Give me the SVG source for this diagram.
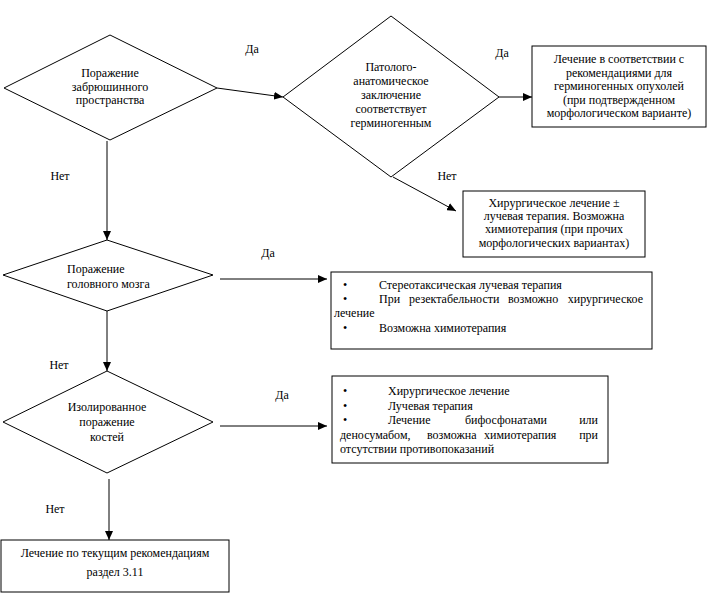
<svg xmlns="http://www.w3.org/2000/svg" width="711" height="597" viewBox="0 0 711 597">
<style>
.s{fill:#fff;stroke:#000;stroke-width:1}
text{font-family:"Liberation Serif","Times New Roman",serif;font-size:12px;fill:#000}
.c{text-anchor:middle}
.e{text-anchor:end}
.l{stroke:#000;stroke-width:1;fill:none}
</style>
<defs>
<marker id="a" markerWidth="10" markerHeight="8" refX="9" refY="4" orient="auto" markerUnits="userSpaceOnUse">
<path d="M0,0 L9,4 L0,8 Z" fill="#000"/>
</marker>
</defs>
<rect width="711" height="597" fill="#fff"/>
<g id="connectors">
<line class="l" x1="217" y1="88" x2="283" y2="97" marker-end="url(#a)"/>
<line class="l" x1="499" y1="97" x2="532" y2="97" marker-end="url(#a)"/>
<line class="l" x1="393" y1="177" x2="456" y2="211" marker-end="url(#a)"/>
<line class="l" x1="107" y1="141" x2="107" y2="240" marker-end="url(#a)"/>
<line class="l" x1="220" y1="279" x2="327" y2="279" marker-end="url(#a)"/>
<line class="l" x1="107" y1="311" x2="107" y2="371" marker-end="url(#a)"/>
<line class="l" x1="220" y1="426" x2="327" y2="426" marker-end="url(#a)"/>
<line class="l" x1="109" y1="479" x2="109" y2="540" marker-end="url(#a)"/>
<text x="252" y="53" class="c">Да</text>
<text x="502" y="57" class="c">Да</text>
<text x="60" y="180" class="c">Нет</text>
<text x="447" y="180" class="c">Нет</text>
<text x="268" y="257" class="c">Да</text>
<text x="59" y="369" class="c">Нет</text>
<text x="282" y="399" class="c">Да</text>
<text x="55" y="513" class="c">Нет</text>
</g>
<g id="d1">
<polygon class="s" points="4,88 110,35 217,88 110,140"/>
<text x="110" y="77" class="c">Поражение</text>
<text x="110" y="91" class="c">забрюшинного</text>
<text x="110" y="104" class="c">пространства</text>
</g>
<g id="d2">
<polygon class="s" points="283,97 391,16 499,97 391,177"/>
<text x="391" y="71" class="c">Патолого-</text>
<text x="391" y="85" class="c">анатомическое</text>
<text x="391" y="99" class="c">заключение</text>
<text x="391" y="113" class="c">соответствует</text>
<text x="391" y="127" class="c">герминогенным</text>
</g>
<g id="b1">
<rect class="s" x="532" y="46" width="174" height="81"/>
<text x="619" y="63" class="c">Лечение в соответствии с</text>
<text x="619" y="77" class="c">рекомендациями для</text>
<text x="619" y="90" class="c">герминогенных опухолей</text>
<text x="619" y="104" class="c">(при подтвержденном</text>
<text x="619" y="117" class="c">морфологическом варианте)</text>
</g>
<g id="b2">
<rect class="s" x="463" y="191" width="182" height="66"/>
<text x="554" y="207" class="c">Хирургическое лечение ±</text>
<text x="554" y="220" class="c">лучевая терапия. Возможна</text>
<text x="554" y="233" class="c">химиотерапия (при прочих</text>
<text x="554" y="247" class="c">морфологических вариантах)</text>
</g>
<g id="d3">
<polygon class="s" points="3,275 107,240 213,275 107,311"/>
<text x="67" y="273">Поражение</text>
<text x="67" y="288">головного мозга</text>
</g>
<g id="b3">
<rect class="s" x="331" y="272" width="321" height="77"/>
<text x="343" y="289">•</text>
<text x="379" y="289">Стереотаксическая лучевая терапия</text>
<text x="343" y="303">•</text>
<text x="379" y="303">При</text>
<text x="409" y="303">резектабельности</text>
<text x="508" y="303">возможно</text>
<text x="643" y="303" class="e">хирургическое</text>
<text x="334" y="317">лечение</text>
<text x="343" y="332">•</text>
<text x="379" y="332">Возможна химиотерапия</text>
</g>
<g id="d4">
<polygon class="s" points="3,422 107,371 213,422 107,473"/>
<text x="107" y="411" class="c">Изолированное</text>
<text x="107" y="426" class="c">поражение</text>
<text x="107" y="441" class="c">костей</text>
</g>
<g id="b4">
<rect class="s" x="332" y="376" width="276" height="87"/>
<text x="343" y="395">•</text>
<text x="388" y="395">Хирургическое лечение</text>
<text x="343" y="409.5">•</text>
<text x="388" y="409.5">Лучевая терапия</text>
<text x="343" y="424">•</text>
<text x="388" y="424">Лечение</text>
<text x="465" y="424">бифосфонатами</text>
<text class="e" x="598" y="424">или</text>
<text x="340" y="438.5">деносумабом,</text>
<text x="427" y="438.5">возможна</text>
<text x="484" y="438.5">химиотерапия</text>
<text class="e" x="598" y="438.5">при</text>
<text x="340" y="453">отсутствии противопоказаний</text>
</g>
<g id="b5">
<rect class="s" x="1" y="540" width="228" height="52"/>
<text x="115" y="557" class="c">Лечение по текущим рекомендациям</text>
<text x="115" y="576" class="c">раздел 3.11</text>
</g>
</svg>
